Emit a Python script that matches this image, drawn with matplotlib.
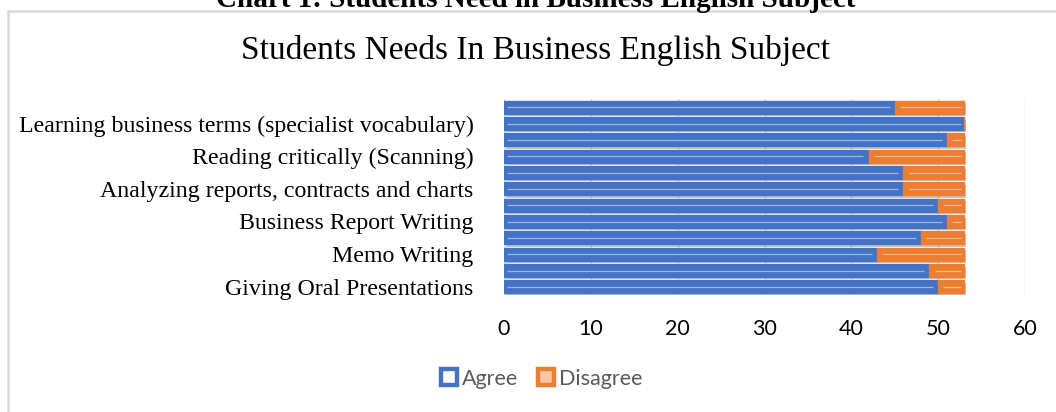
import matplotlib

matplotlib.use("Agg")
import matplotlib.pyplot as plt
import matplotlib.patheffects as pe
from matplotlib.lines import Line2D
from matplotlib.patches import Rectangle

# bars listed top to bottom; only every other category is labelled on the axis
CATEGORIES = [
    "",
    "Learning business terms (specialist vocabulary)",
    "",
    "Reading critically (Scanning)",
    "",
    "Analyzing reports, contracts and charts",
    "",
    "Business Report Writing",
    "",
    "Memo Writing",
    "",
    "Giving Oral Presentations",
]
AGREE = [45, 53, 51, 42, 46, 46, 50, 51, 48, 43, 49, 50]
DISAGREE = [8, 0, 2, 11, 7, 7, 3, 2, 5, 10, 4, 3]
X_TICKS = [0, 10, 20, 30, 40, 50, 60]

BLUE = "#4472C4"
ORANGE = "#ED7D31"
BLUE_LINE = "#9DB5E3"
ORANGE_LINE = "#F6B98E"
SERIF = ["Liberation Serif", "DejaVu Serif"]
SANS = ["Lato", "DejaVu Sans"]

fig = plt.figure(figsize=(10.56, 4.12), dpi=100)
fig.patches.append(
    Rectangle((8 / 1056, -0.1), 1.2, 1.1 - 11 / 412, transform=fig.transFigure,
              facecolor="none", edgecolor="#D9D9D9", linewidth=1.8)
)
fig.text(0.5075, 1 - 7 / 412, "Chart 1: Students Need in Business English Subject",
         ha="center", va="baseline", fontsize=21, fontweight="bold", family=SERIF)
fig.text(0.507, 1 - 51 / 412, "Students Needs In Business English Subject",
         ha="center", va="center", fontsize=24, family=SERIF, color="#000000")

ax = fig.add_axes([504 / 1056, 1 - 295 / 412, 521 / 1056, 196 / 412])
n = len(CATEGORIES)
pos = [n - 1 - i for i in range(n)]

shadow = [pe.SimplePatchShadow(offset=(1.2, -1.8), shadow_rgbFace="#7F7F7F", alpha=0.45), pe.Normal()]
ax.barh(pos, AGREE, height=0.78, color=BLUE, edgecolor=BLUE, linewidth=1.0,
        joinstyle="round", path_effects=shadow, label="Agree", zorder=3)
ax.barh(pos, DISAGREE, left=AGREE, height=0.78, color=ORANGE, edgecolor=ORANGE,
        linewidth=1.0, joinstyle="round", path_effects=shadow, label="Disagree", zorder=3)

for p, a, d in zip(pos, AGREE, DISAGREE):
    ax.hlines(p, 0.4, a - 0.6 if d else a - 0.4, color=BLUE_LINE, linewidth=0.9, zorder=4)
    if d:
        ax.hlines(p, a + 0.6, a + d - 0.4, color=ORANGE_LINE, linewidth=0.9, zorder=4)

ax.set_xlim(0, 60)
ax.set_ylim(-0.5, n - 0.5)
ax.set_xticks(X_TICKS)
ax.set_yticks(pos)
ax.set_yticklabels(CATEGORIES, family=SERIF, fontsize=17.2)
for lbl in ax.get_xticklabels():
    lbl.set_family(SANS)
    lbl.set_fontsize(15.5)
ax.tick_params(axis="y", length=0, pad=22)
ax.tick_params(axis="x", length=0, pad=17)
ax.grid(axis="x", color="#D9D9D9", linewidth=1.0, zorder=0)
for s in ax.spines.values():
    s.set_visible(False)
ax.set_facecolor("none")

handles = [
    Line2D([], [], linestyle="none", marker="s", markersize=11, markerfacecolor="white",
           markeredgecolor=BLUE, markeredgewidth=3.2),
    Line2D([], [], linestyle="none", marker="s", markersize=11, markerfacecolor="#F8C6A4",
           markeredgecolor=ORANGE, markeredgewidth=3.2),
]
fig.legend(handles, ["Agree", "Disagree"], loc="center", bbox_to_anchor=(0.512, 1 - 379 / 412),
           ncol=2, frameon=False, prop={"family": SANS, "size": 15.5}, labelcolor="#595959",
           handletextpad=0.1, columnspacing=0.8, handlelength=1.0)

fig.savefig("out.png", dpi=100)
